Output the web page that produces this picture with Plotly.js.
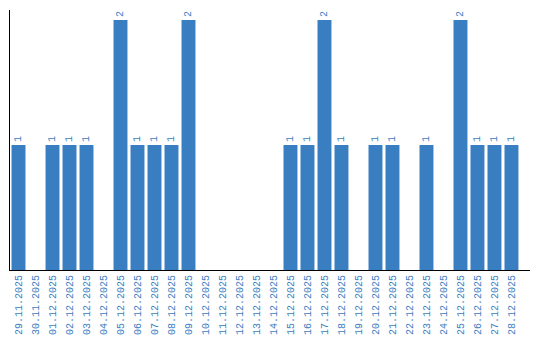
<!DOCTYPE html>
<html><head><meta charset="utf-8">
<script src="https://cdn.plot.ly/plotly-3.0.1.min.js"></script>
<style>html,body{margin:0;padding:0;background:#fff}#chart{width:540px;height:340px}</style>
</head><body><div id="chart"></div>
<script>
const dates = ["29.11.2025","30.11.2025","01.12.2025","02.12.2025","03.12.2025","04.12.2025","05.12.2025","06.12.2025","07.12.2025","08.12.2025","09.12.2025","10.12.2025","11.12.2025","12.12.2025","13.12.2025","14.12.2025","15.12.2025","16.12.2025","17.12.2025","18.12.2025","19.12.2025","20.12.2025","21.12.2025","22.12.2025","23.12.2025","24.12.2025","25.12.2025","26.12.2025","27.12.2025","28.12.2025"];
const counts = [1,0,1,1,1,0,2,1,1,1,2,0,0,0,0,0,1,1,2,1,0,1,1,0,1,0,2,1,1,1];
const blue = "rgb(58,126,194)";
const labels = counts.map(v => v > 0 ? String(v) : "");
const fam = "Liberation Mono";
Plotly.newPlot("chart", [{
  type: "bar", x: dates, y: counts, text: labels,
  textposition: "outside", textangle: -90, cliponaxis: false,
  textfont: {family: fam, size: 10, color: blue},
  marker: {color: blue}, hoverinfo: "none"
}], {
  width: 540, height: 340,
  margin: {l: 10, r: 10, t: 10, b: 70},
  bargap: 0.18,
  paper_bgcolor: "#fff", plot_bgcolor: "#fff",
  showlegend: false,
  font: {family: fam, size: 10, color: blue},
  xaxis: {type: "category", range: [-0.5, 30.09], showline: true, linecolor: "#000", linewidth: 1,
          ticks: "", tickangle: -90, showgrid: false, zeroline: false,
          tickfont: {family: fam, size: 10, color: blue}},
  yaxis: {range: [0, 2.08], showline: true, linecolor: "#000", linewidth: 1,
          showticklabels: false, ticks: "", showgrid: false, zeroline: false}
}, {displayModeBar: false, staticPlot: true});
</script></body></html>
